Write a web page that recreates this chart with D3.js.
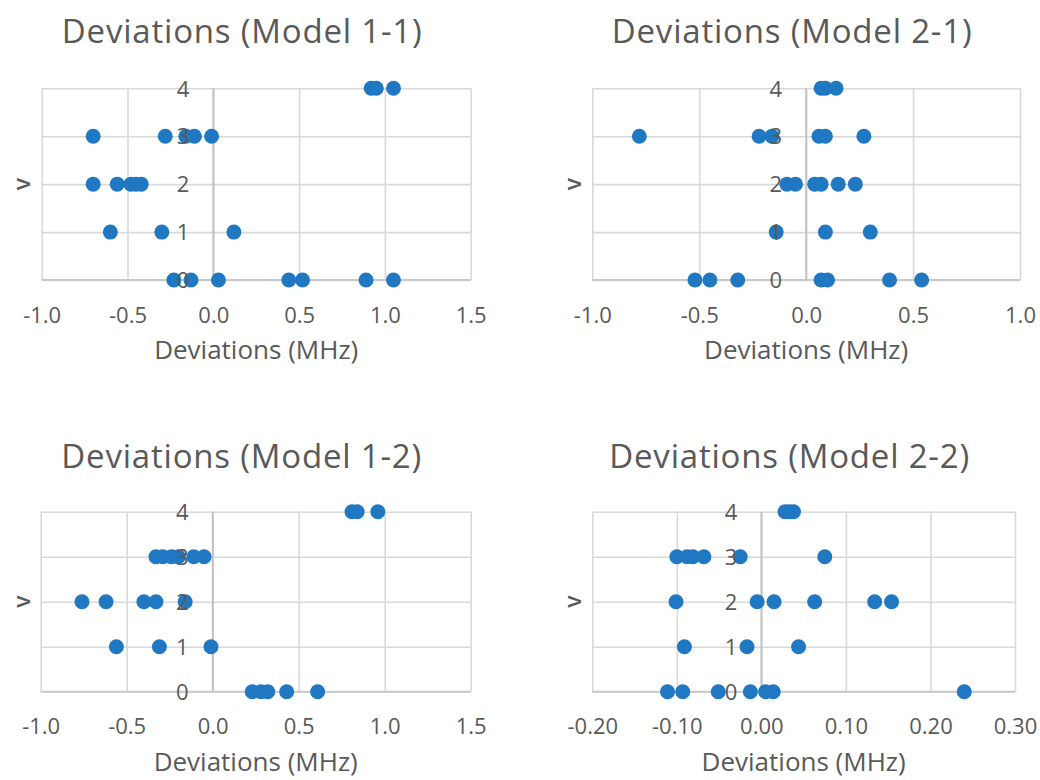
<!DOCTYPE html>
<html>
<head>
<meta charset="utf-8">
<script src="https://cdn.jsdelivr.net/npm/d3@7"></script>
<style>
  html, body { margin: 0; padding: 0; background: #ffffff; }
  svg { display: block; }
  text { font-family: "Open Sans", "Noto Sans", sans-serif; fill: #595959; }
</style>
</head>
<body>
<svg id="chart" width="1040" height="780"></svg>
<script>
// Vibrational levels on the vertical axis
const levels = [0, 1, 2, 3, 4];

// Deviations (MHz) per level, index = level v
const model11 = [
  [-0.23, -0.13, 0.03, 0.44, 0.52, 0.89, 1.05],
  [-0.60, -0.30, 0.12],
  [-0.70, -0.56, -0.48, -0.45, -0.42],
  [-0.70, -0.28, -0.16, -0.11, -0.01],
  [0.92, 0.95, 1.05]
];
const model21 = [
  [-0.52, -0.45, -0.32, 0.07, 0.10, 0.39, 0.54],
  [-0.14, 0.09, 0.30],
  [-0.09, -0.05, 0.04, 0.07, 0.15, 0.23],
  [-0.78, -0.22, -0.16, 0.06, 0.09, 0.27],
  [0.07, 0.09, 0.14]
];
const model12 = [
  [0.23, 0.28, 0.32, 0.43, 0.61],
  [-0.56, -0.31, -0.01],
  [-0.76, -0.62, -0.40, -0.33, -0.16],
  [-0.33, -0.29, -0.24, -0.20, -0.11, -0.05],
  [0.81, 0.84, 0.96]
];
const model22 = [
  [-0.111, -0.093, -0.051, -0.013, 0.005, 0.014, 0.240],
  [-0.091, -0.017, 0.044],
  [-0.101, -0.005, 0.015, 0.063, 0.134, 0.154],
  [-0.100, -0.088, -0.081, -0.068, -0.025, 0.075],
  [0.028, 0.033, 0.038]
];

// Horizontal tick values
const ticksWide = [-1.0, -0.5, 0.0, 0.5, 1.0, 1.5];
const ticksNarrow = [-1.0, -0.5, 0.0, 0.5, 1.0];
const ticksFine = [-0.20, -0.10, 0.00, 0.10, 0.20, 0.30];

// Text
const titles = ["Deviations (Model 1-1)", "Deviations (Model 2-1)", "Deviations (Model 1-2)", "Deviations (Model 2-2)"];
const xTitle = "Deviations (MHz)";
const yTitle = "v";

const svg = d3.select("#chart");
const dotColor = "#1f78c1";

// Panel frames (pixel layout)
const panels = [
  { data: model11, ticks: ticksWide,   fmt: ".1f", title: titles[0], x0: 41.7,  x1: 470.7, y0: 88.3,  y1: 280,   titleBase: 43,  yLabX: 22 },
  { data: model21, ticks: ticksNarrow, fmt: ".1f", title: titles[1], x0: 592.3, x1: 1020,  y0: 88.3,  y1: 280,   titleBase: 43,  yLabX: 573 },
  { data: model12, ticks: ticksWide,   fmt: ".1f", title: titles[2], x0: 40.7,  x1: 470.7, y0: 511.7, y1: 691.7, titleBase: 468, yLabX: 22 },
  { data: model22, ticks: ticksFine,   fmt: ".2f", title: titles[3], x0: 592.3, x1: 1015,  y0: 511.7, y1: 691.7, titleBase: 468, yLabX: 573 }
];

panels.forEach(p => {
  const x = d3.scaleLinear()
    .domain([p.ticks[0], p.ticks[p.ticks.length - 1]])
    .range([p.x0, p.x1]);
  const y = d3.scaleLinear()
    .domain([levels[0], levels[levels.length - 1]])
    .range([p.y1, p.y0]);
  const fmt = d3.format(p.fmt);
  const label = v => fmt(v).replace("\u2212", "-");

  const g = svg.append("g");

  // vertical gridlines
  g.append("g")
    .call(d3.axisBottom(x).tickValues(p.ticks).tickSize(-(p.y1 - p.y0)).tickFormat(""))
    .attr("transform", `translate(0,${p.y1})`)
    .call(a => a.select(".domain").remove())
    .call(a => a.selectAll("line").attr("stroke", "#d9d9d9").attr("stroke-width", 1.6));

  // horizontal gridlines
  g.append("g")
    .call(d3.axisLeft(y).tickValues(levels).tickSize(-(p.x1 - p.x0)).tickFormat(""))
    .attr("transform", `translate(${p.x0},0)`)
    .call(a => a.select(".domain").remove())
    .call(a => a.selectAll("line").attr("stroke", "#d9d9d9").attr("stroke-width", 1.6));

  // axis lines: bottom (v = 0) and vertical at zero deviation
  g.append("line")
    .attr("x1", p.x0).attr("x2", p.x1)
    .attr("y1", y(0)).attr("y2", y(0))
    .attr("stroke", "#c8c8c8").attr("stroke-width", 1.8);
  g.append("line")
    .attr("x1", x(0)).attr("x2", x(0))
    .attr("y1", p.y0).attr("y2", p.y1)
    .attr("stroke", "#c0c0c0").attr("stroke-width", 1.8);

  // points
  const pts = [];
  p.data.forEach((row, i) => row.forEach(d => pts.push({ v: levels[i], d })));
  g.append("g").selectAll("circle")
    .data(pts)
    .join("circle")
    .attr("cx", d => x(d.d))
    .attr("cy", d => y(d.v))
    .attr("r", 7.5)
    .attr("fill", dotColor);

  // x tick labels
  const xa = g.append("g")
    .attr("transform", `translate(0,${p.y1})`)
    .call(d3.axisBottom(x).tickValues(p.ticks).tickSize(0).tickPadding(0).tickFormat(label));
  xa.select(".domain").remove();
  xa.selectAll("text")
    .attr("y", 35).attr("dy", "0.35em")
    .style("font-size", "22px")
    .style("font-family", "'Open Sans', sans-serif")
    .attr("fill", "#595959");

  // y tick labels next to the zero line
  const ya = g.append("g")
    .attr("transform", `translate(${x(0)},0)`)
    .call(d3.axisLeft(y).tickValues(levels).tickSize(0).tickPadding(0).tickFormat(d3.format("d")));
  ya.select(".domain").remove();
  ya.selectAll("text")
    .attr("x", -24).attr("dy", "0.35em")
    .style("font-size", "22px")
    .style("font-family", "'Open Sans', sans-serif")
    .attr("fill", "#595959");

  // axis titles
  g.append("text")
    .attr("x", (p.x0 + p.x1) / 2)
    .attr("y", p.y1 + 79)
    .attr("text-anchor", "middle")
    .style("font-size", "26px")
    .text(xTitle);

  g.append("text")
    .attr("transform", `translate(${p.yLabX},${(p.y0 + p.y1) / 2}) rotate(-90)`)
    .attr("text-anchor", "middle")
    .attr("dy", "0.35em")
    .style("font-size", "23px")
    .style("font-weight", "600")
    .attr("fill", "#404040")
    .text(yTitle);

  // chart title
  g.append("text")
    .attr("x", (p.x0 + p.x1) / 2 - 14)
    .attr("y", p.titleBase)
    .attr("text-anchor", "middle")
    .style("font-size", "33px")
    .style("letter-spacing", "0.8px")
    .text(p.title);
});
</script>
</body>
</html>
